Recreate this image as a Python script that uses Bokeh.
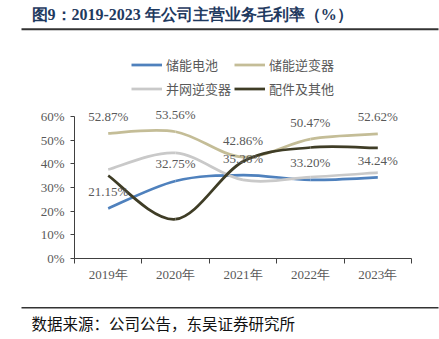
from bokeh.plotting import figure
from bokeh.core.properties import value
from bokeh.models import (Range1d, FixedTicker, PrintfTickFormatter, Legend, LegendItem,
                          LabelSet, ColumnDataSource, BoxAnnotation)
from bokeh.embed import file_html
from bokeh.resources import INLINE

# ---- data ----
years = ["2019年", "2020年", "2021年", "2022年", "2023年"]
battery = [21.15, 32.75, 35.26, 33.20, 34.24]            # 储能电池
storage_inverter = [52.87, 53.56, 42.86, 50.47, 52.62]   # 储能逆变器
grid_inverter = [37.6, 44.6, 33.2, 34.4, 36.3]           # 并网逆变器
parts_other = [35.0, 16.6, 41.0, 46.9, 46.7]             # 配件及其他
y_ticks = [0, 10, 20, 30, 40, 50, 60]

names = ["储能电池", "储能逆变器", "并网逆变器", "配件及其他"]
values = [battery, storage_inverter, grid_inverter, parts_other]
colors = ["#4F81BD", "#C4BD97", "#C9C9C9", "#3F3D26"]
labelled = [True, True, False, False]

title_text = "图9：2019-2023 年公司主营业务毛利率（%）"
source_text = "数据来源：公司公告，东吴证券研究所"

W = 439
HEAD_H = 35
MAIN_H = 265
FOOT_H = 339 - HEAD_H - MAIN_H

axis_col = "#404040"
tick_col = "#595959"
rule_col = "#333333"


def blank(h):
    f = figure(width=W, height=h, output_backend="svg", toolbar_location=None,
               x_range=Range1d(0, W), y_range=Range1d(h, 0),
               x_axis_type=None, y_axis_type=None, min_border=0)
    f.outline_line_color = None
    f.xgrid.visible = False
    f.ygrid.visible = False
    return f


# ---- header ----
head = blank(HEAD_H)
head.text(x=[31], y=[14], text=[title_text], text_font=value("Liberation Serif"),
          text_font_style="bold", text_font_size="16px", text_color="#1F3A5F",
          text_baseline="middle", text_align="left")
head.add_layout(BoxAnnotation(left=21, right=438, top=27.7, bottom=29.7,
                              fill_color=rule_col, fill_alpha=1, line_color=None))

# ---- main chart ----
xs = list(range(len(years)))
frame_top = 116 - HEAD_H      # pixel row of 60% inside main figure
frame_bottom = 258 - HEAD_H   # pixel row of 0%
px_per_unit = (frame_bottom - frame_top) / 60.0
y_top = 60 + frame_top / px_per_unit

p = figure(width=W, height=MAIN_H, output_backend="svg", toolbar_location=None,
           x_range=Range1d(-0.5, len(years) - 0.5), y_range=Range1d(0, y_top),
           min_border_left=74, min_border_right=28, min_border_top=0,
           min_border_bottom=MAIN_H - frame_bottom)
p.outline_line_color = None
p.xgrid.visible = False
p.ygrid.visible = False

ya = p.yaxis[0]
ya.ticker = FixedTicker(ticks=y_ticks)
ya.bounds = (0, 60)
ya.formatter = PrintfTickFormatter(format="%d%%")
ya.axis_line_color = axis_col
ya.major_tick_line_color = axis_col
ya.major_tick_out = 4
ya.major_tick_in = 0
ya.minor_tick_line_color = None
ya.major_label_text_font = "Liberation Serif"
ya.major_label_text_font_size = "13px"
ya.major_label_text_color = tick_col
ya.major_label_standoff = 6

xa = p.xaxis[0]
xa.ticker = FixedTicker(ticks=xs, minor_ticks=[i - 0.5 for i in range(len(years) + 1)])
xa.major_label_overrides = {i: y for i, y in enumerate(years)}
xa.axis_line_color = axis_col
xa.major_tick_line_color = None
xa.major_tick_out = 0
xa.major_tick_in = 0
xa.minor_tick_line_color = axis_col
xa.minor_tick_out = 5
xa.minor_tick_in = 0
xa.major_label_text_font = "Liberation Serif"
xa.major_label_text_font_size = "13px"
xa.major_label_text_color = tick_col
xa.major_label_standoff = 3


def smooth(xv, yv):
    n = len(xv)
    d = dict(x0=[], y0=[], x1=[], y1=[], cx0=[], cy0=[], cx1=[], cy1=[])
    for i in range(n - 1):
        xp, yp = (xv[i - 1], yv[i - 1]) if i > 0 else (xv[i], yv[i])
        xn, yn = (xv[i + 2], yv[i + 2]) if i + 2 < n else (xv[i + 1], yv[i + 1])
        d["x0"].append(xv[i]); d["y0"].append(yv[i])
        d["x1"].append(xv[i + 1]); d["y1"].append(yv[i + 1])
        d["cx0"].append(xv[i] + (xv[i + 1] - xp) / 6)
        d["cy0"].append(yv[i] + (yv[i + 1] - yp) / 6)
        d["cx1"].append(xv[i + 1] - (xn - xv[i]) / 6)
        d["cy1"].append(yv[i + 1] - (yn - yv[i]) / 6)
    return ColumnDataSource(d)


items = []
for name, vals, col in zip(names, values, colors):
    r = p.bezier(x0="x0", y0="y0", x1="x1", y1="y1", cx0="cx0", cy0="cy0",
                 cx1="cx1", cy1="cy1", source=smooth(xs, vals),
                 line_color=col, line_width=2.75)
    items.append(LegendItem(label=name, renderers=[r]))

for vals, lab in zip(values, labelled):
    if lab:
        src = ColumnDataSource(dict(x=xs, y=vals, t=["%.2f%%" % v for v in vals]))
        p.add_layout(LabelSet(x="x", y="y", text="t", source=src, y_offset=17,
                              text_align="center", text_baseline="middle",
                              text_font="Liberation Serif", text_font_size="13px",
                              text_color=tick_col))

legend = Legend(items=items, location=(57, 159), orientation="horizontal", ncols=2,
                border_line_color=None, background_fill_alpha=0, padding=0, margin=0,
                spacing=3, label_standoff=4, glyph_width=31, glyph_height=21,
                label_height=21, label_text_font="Noto Sans CJK SC",
                label_text_font_size="13px", label_text_color=tick_col)
p.add_layout(legend)

# ---- footer ----
foot = blank(FOOT_H)
foot.add_layout(BoxAnnotation(left=21, right=438, top=306.5 - HEAD_H - MAIN_H,
                              bottom=308 - HEAD_H - MAIN_H,
                              fill_color=rule_col, fill_alpha=1, line_color=None))
foot.text(x=[31], y=[322 - HEAD_H - MAIN_H], text=[source_text],
          text_font=value("Noto Sans CJK SC"), text_font_size="15.5px",
          text_color="#111111", text_baseline="middle", text_align="left")

# separate roots, stacked top to bottom (no frame alignment between them)
open("out.html", "w").write(file_html([head, p, foot], INLINE))
